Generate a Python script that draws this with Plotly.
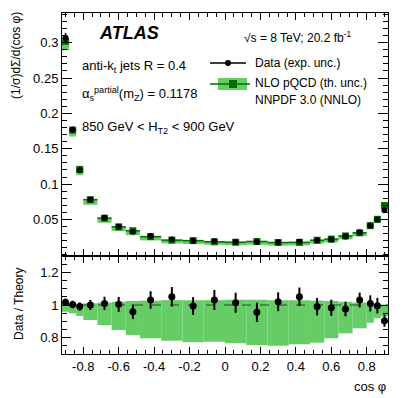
import plotly.graph_objects as go

# ---- data ----
bin_edges = [-0.92, -0.88, -0.84, -0.8, -0.72, -0.64, -0.56, -0.48, -0.36, -0.24, -0.12, 0.0,
             0.12, 0.24, 0.36, 0.48, 0.56, 0.64, 0.72, 0.8, 0.84, 0.88, 0.92]
data_vals = [0.307, 0.177, 0.1196, 0.078, 0.0523, 0.0397, 0.0326, 0.0265, 0.0218, 0.0199, 0.019,
             0.018, 0.018, 0.0177, 0.0185, 0.0204, 0.0218, 0.026, 0.032, 0.0416, 0.050, 0.063]
ratio_vals = [1.017, 1.003, 0.99, 1.0, 1.01, 1.004, 0.958, 1.031, 1.051, 0.994, 1.031, 1.014,
              0.955, 1.02, 1.051, 0.99, 0.983, 0.975, 1.031, 1.01, 0.996, 0.903]
ratio_errs = [0.023, 0.024, 0.026, 0.031, 0.041, 0.046, 0.045, 0.054, 0.06, 0.055, 0.062, 0.062,
              0.06, 0.058, 0.057, 0.054, 0.05, 0.045, 0.046, 0.05, 0.048, 0.038]
theory_up = [1.005, 1.005, 1.008, 1.01, 1.015, 1.02, 1.025, 1.027, 1.03, 1.03, 1.03, 1.032,
             1.032, 1.03, 1.03, 1.027, 1.025, 1.02, 1.015, 1.01, 1.005, 1.003]
theory_dn = [0.958, 0.948, 0.932, 0.907, 0.876, 0.845, 0.814, 0.794, 0.779, 0.769, 0.773, 0.763,
             0.752, 0.748, 0.757, 0.767, 0.794, 0.825, 0.856, 0.89, 0.918, 0.93]
x_tick_vals = [-0.8, -0.6, -0.4, -0.2, 0, 0.2, 0.4, 0.6, 0.8]
x_tick_text = ["-0.8", "-0.6", "-0.4", "-0.2", "0", "0.2", "0.4", "0.6", "0.8"]
y_tick_vals = [0.05, 0.1, 0.15, 0.2, 0.25, 0.3]
y_tick_text = ["0.05", "0.1", "0.15", "0.2", "0.25", "0.3"]
r_tick_vals = [0.8, 1.0, 1.2]
r_tick_text = ["0.8", "1", "1.2"]

# ---- derived ----
centers = [(a + b) / 2 for a, b in zip(bin_edges[:-1], bin_edges[1:])]
widths = [b - a for a, b in zip(bin_edges[:-1], bin_edges[1:])]
theory = [d / r for d, r in zip(data_vals, ratio_vals)]
data_errs = [e * t for e, t in zip(ratio_errs, theory)]
half_w = [w / 2 for w in widths]

GREEN = "rgb(102,204,102)"
DKGREEN = "rgb(0,110,0)"
FONT = "Liberation Sans, Arial, sans-serif"

W, H = 409, 398
L, R, T, B = 62, 21, 13, 44
PW, PH = W - L - R, H - T - B
split = 98 / PH


def px(x):
    return (x - L) / PW


def py(y):
    return (H - B - y) / PH


fig = go.Figure()

# top panel theory band
fig.add_trace(go.Bar(x=centers, width=widths,
                     base=[t * d for t, d in zip(theory, theory_dn)],
                     y=[t * (u - d) for t, u, d in zip(theory, theory_up, theory_dn)],
                     marker=dict(color=GREEN, line=dict(width=0)),
                     xaxis="x", yaxis="y", showlegend=False, hoverinfo="skip"))
fig.add_trace(go.Scatter(x=centers, y=theory, mode="markers",
                         marker=dict(symbol="square", size=7, color=DKGREEN),
                         error_x=dict(type="data", array=half_w, color=DKGREEN, thickness=1.5, width=0),
                         xaxis="x", yaxis="y", showlegend=False))
fig.add_trace(go.Scatter(x=centers, y=data_vals, mode="markers",
                         marker=dict(symbol="circle", size=6, color="black"),
                         error_y=dict(type="data", array=data_errs, color="black", thickness=1.5, width=0),
                         xaxis="x", yaxis="y", showlegend=False))

# bottom panel
fig.add_trace(go.Bar(x=centers, width=widths, base=theory_dn,
                     y=[u - d for u, d in zip(theory_up, theory_dn)],
                     marker=dict(color=GREEN, line=dict(width=0)),
                     xaxis="x2", yaxis="y2", showlegend=False, hoverinfo="skip"))
fig.add_trace(go.Scatter(x=[bin_edges[0], bin_edges[-1]], y=[1, 1], mode="lines",
                         line=dict(color="rgb(40,70,40)", width=1, dash="dash"),
                         xaxis="x2", yaxis="y2", showlegend=False))
fig.add_trace(go.Scatter(x=centers, y=ratio_vals, mode="markers",
                         marker=dict(symbol="circle", size=7, color="black"),
                         error_y=dict(type="data", array=ratio_errs, color="black", thickness=2, width=0),
                         xaxis="x2", yaxis="y2", showlegend=False))

axis_common = dict(showline=True, linecolor="black", linewidth=1, mirror="allticks",
                   ticks="inside", tickcolor="black", showgrid=False, zeroline=False,
                   tickfont=dict(family=FONT, size=13, color="black"))

fig.update_layout(
    width=W, height=H, margin=dict(l=L, r=R, t=T, b=B),
    paper_bgcolor="white", plot_bgcolor="white", barmode="overlay",
    showlegend=False,
    xaxis=dict(domain=[0, 1], range=[bin_edges[0], bin_edges[-1]], anchor="y",
               tickvals=x_tick_vals, showticklabels=False, ticklen=7,
               minor=dict(ticks="inside", dtick=0.05, tick0=0, ticklen=4, tickcolor="black"),
               **axis_common),
    yaxis=dict(domain=[split, 1], range=[-0.0017, 0.342], anchor="x",
               tickvals=y_tick_vals, ticktext=y_tick_text, ticklen=10,
               minor=dict(ticks="inside", dtick=0.01, tick0=0, ticklen=5, tickcolor="black"),
               **axis_common),
    xaxis2=dict(domain=[0, 1], range=[bin_edges[0], bin_edges[-1]], anchor="y2",
                tickvals=x_tick_vals, ticktext=x_tick_text, ticklen=7,
                minor=dict(ticks="inside", dtick=0.05, tick0=0, ticklen=4, tickcolor="black"),
                **axis_common),
    yaxis2=dict(domain=[0, split], range=[0.697, 1.303], anchor="x2",
                tickvals=r_tick_vals, ticktext=r_tick_text, ticklen=9,
                minor=dict(ticks="inside", dtick=0.05, tick0=0, ticklen=5, tickcolor="black"),
                **axis_common),
)


def ann(text, x, y, size=13, xanchor="left", yanchor="middle", angle=0, **kw):
    fig.add_annotation(text=text, x=px(x), y=py(y), xref="paper", yref="paper",
                       xanchor=xanchor, yanchor=yanchor, showarrow=False, textangle=angle,
                       font=dict(family=FONT, size=size, color="black"), **kw)


ann("<b><i>ATLAS</i></b>", 97, 33, size=18)
ann("√s = 8 TeV; 20.2 fb<sup>-1</sup>", 242, 37, size=12)
ann("anti-k<sub>t</sub> jets R = 0.4", 80, 66, size=13)
ann("α<sub>s</sub><sup>partial</sup>(m<sub>Z</sub>) = 0.1178", 80, 94, size=13)
ann("850 GeV &lt; H<sub>T2</sub> &lt; 900 GeV", 80, 127, size=13)
ann("Data (exp. unc.)", 253, 63, size=12)
ann("NLO pQCD (th. unc.)", 253, 83, size=12)
ann("NNPDF 3.0 (NNLO)", 253, 100, size=12)
ann("(1/σ)dΣ/d(cos φ)", 16, 56, size=12, xanchor="center", angle=-90)
ann("Data / Theory", 19, 304, size=12, xanchor="center", angle=-90)
ann("cos φ", 388, 386, size=13, xanchor="right")

# legend symbols
fig.add_shape(type="line", xref="paper", yref="paper", x0=px(210), x1=px(246), y0=py(63), y1=py(63),
              line=dict(color="black", width=1.5))
fig.add_shape(type="circle", xref="paper", yref="paper", x0=px(225), x1=px(231), y0=py(60), y1=py(66),
              fillcolor="black", line=dict(color="black", width=0))
fig.add_shape(type="rect", xref="paper", yref="paper", x0=px(218), x1=px(247), y0=py(78), y1=py(90),
              fillcolor=GREEN, line=dict(width=0))
fig.add_shape(type="line", xref="paper", yref="paper", x0=px(210), x1=px(250), y0=py(84), y1=py(84),
              line=dict(color=DKGREEN, width=1.5))
fig.add_shape(type="rect", xref="paper", yref="paper", x0=px(229), x1=px(237), y0=py(80), y1=py(88),
              fillcolor=DKGREEN, line=dict(width=0))

fig.write_html("out.html", config={"displayModeBar": False},
               post_script="document.body.style.margin='0';document.body.style.overflow='hidden';")
